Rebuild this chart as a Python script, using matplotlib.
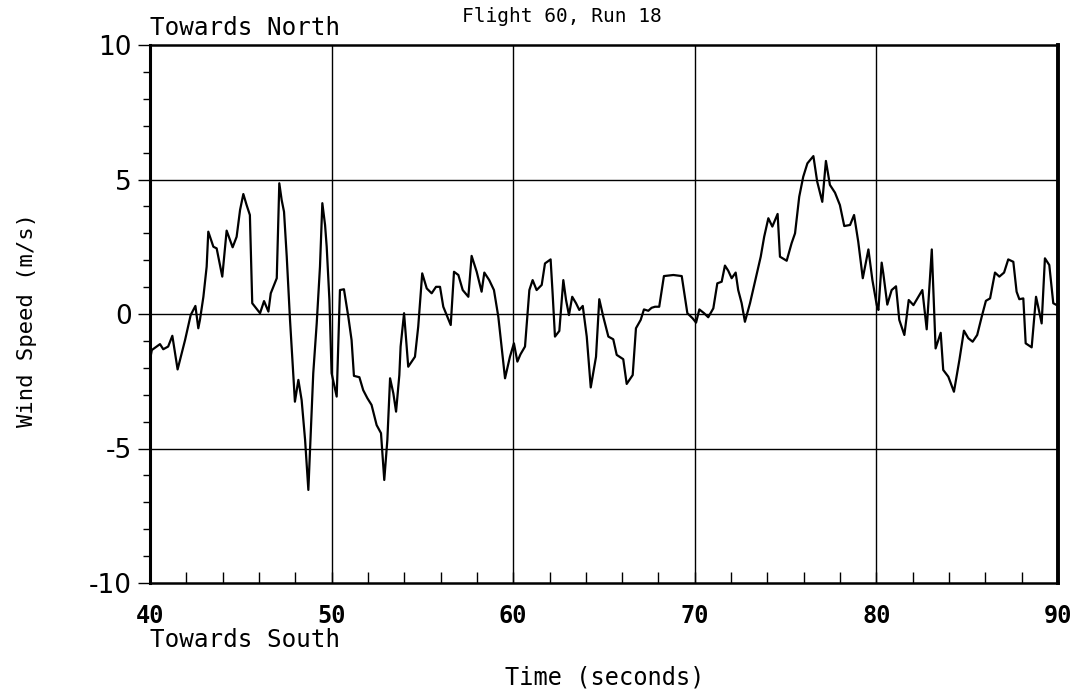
import matplotlib
matplotlib.use("Agg")
import matplotlib.pyplot as plt
from matplotlib.ticker import MultipleLocator

time_s = [40.0, 40.1, 40.55, 40.73, 41.0, 41.23, 41.52, 41.93, 42.24, 42.5, 42.66, 42.75,
          42.94, 43.12, 43.21, 43.49, 43.67, 43.98, 44.22, 44.55, 44.77, 44.96, 45.14, 45.32,
          45.5, 45.63, 46.06, 46.28, 46.52, 46.65, 46.98, 47.12, 47.25, 47.38, 47.53, 47.71,
          47.98, 48.17, 48.35, 48.54, 48.72, 48.99, 49.18, 49.36, 49.49, 49.64, 49.73, 49.88,
          50.0, 50.28, 50.46, 50.68, 50.92, 51.1, 51.23, 51.53, 51.74, 51.97, 52.2, 52.48,
          52.72, 52.9, 53.07, 53.22, 53.4, 53.55, 53.73, 53.8, 53.99, 54.22, 54.59, 54.77,
          54.99, 55.24, 55.51, 55.75, 55.97, 56.15, 56.56, 56.74, 56.98, 57.22, 57.53, 57.71,
          57.99, 58.26, 58.41, 58.68, 58.94, 59.18, 59.55, 59.82, 60.04, 60.23, 60.4, 60.65,
          60.89, 61.07, 61.29, 61.57, 61.75, 62.06, 62.17, 62.3, 62.54, 62.76, 62.91, 63.07,
          63.25, 63.46, 63.64, 63.83, 64.05, 64.27, 64.56, 64.74, 64.96, 65.24, 65.51, 65.7,
          66.06, 66.25, 66.58, 66.76, 67.02, 67.2, 67.44, 67.62, 67.81, 68.04, 68.3, 68.82,
          69.28, 69.59, 69.88, 70.07, 70.25, 70.51, 70.74, 71.02, 71.24, 71.48, 71.66, 71.84,
          72.03, 72.25, 72.39, 72.58, 72.76, 73.04, 73.31, 73.63, 73.82, 74.05, 74.27, 74.56,
          74.69, 75.06, 75.33, 75.52, 75.75, 75.97, 76.2, 76.53, 76.74, 77.02, 77.22, 77.44,
          77.72, 77.99, 78.23, 78.55, 78.77, 79.0, 79.25, 79.56, 79.78, 80.02, 80.11, 80.29,
          80.38, 80.6, 80.84, 81.08, 81.26, 81.54, 81.78, 82.04, 82.26, 82.53, 82.77, 83.05,
          83.26, 83.54, 83.68, 83.96, 84.27, 84.57, 84.82, 85.06, 85.3, 85.55, 85.8, 86.03,
          86.26, 86.53, 86.77, 87.03, 87.26, 87.54, 87.72, 87.87, 88.09, 88.22, 88.55, 88.79,
          88.91, 89.1, 89.28, 89.52, 89.74, 89.93]
wind_ms = [-1.7, -1.34, -1.12, -1.31, -1.21, -0.81, -2.06, -0.97, -0.04, 0.3, -0.53, -0.22,
           0.64, 1.76, 3.06, 2.5, 2.44, 1.39, 3.1, 2.48, 2.87, 3.87, 4.46, 4.05,
           3.68, 0.4, 0.03, 0.48, 0.09, 0.77, 1.33, 4.86, 4.24, 3.8, 2.13, -0.22,
           -3.26, -2.45, -3.2, -4.68, -6.54, -2.2, -0.35, 1.76, 4.12, 3.31, 2.5, 0.52,
           -2.2, -3.07, 0.89, 0.92, -0.1, -0.97, -2.3, -2.35, -2.83, -3.13, -3.38, -4.13,
           -4.43, -6.17, -4.68, -2.39, -2.95, -3.63, -2.27, -1.21, 0.03, -1.96, -1.59, -0.47,
           1.51, 0.95, 0.77, 1.01, 1.01, 0.27, -0.41, 1.57, 1.45, 0.89, 0.64, 2.16,
           1.57, 0.83, 1.54, 1.26, 0.89, -0.1, -2.39, -1.59, -1.09, -1.77, -1.5, -1.21,
           0.89, 1.26, 0.89, 1.08, 1.88, 2.03, 0.77, -0.84, -0.63, 1.26, 0.52, -0.04,
           0.64, 0.4, 0.15, 0.3, -0.84, -2.73, -1.59, 0.55, -0.1, -0.84, -0.94, -1.52,
           -1.68, -2.6, -2.27, -0.53, -0.22, 0.17, 0.12, 0.23, 0.27, 0.27, 1.41, 1.45,
           1.41, 0.03, -0.16, -0.32, 0.17, 0.03, -0.12, 0.21, 1.14, 1.2, 1.8, 1.61,
           1.33, 1.54, 0.89, 0.4, -0.29, 0.4, 1.2, 2.13, 2.87, 3.56, 3.25, 3.72,
           2.13, 1.98, 2.63, 3.0, 4.36, 5.1, 5.6, 5.87, 4.92, 4.17, 5.69, 4.8,
           4.51, 4.05, 3.27, 3.31, 3.68, 2.69, 1.33, 2.4, 1.26, 0.33, 0.15, 1.91,
           1.51, 0.35, 0.89, 1.03, -0.22, -0.78, 0.52, 0.33, 0.58, 0.89, -0.57, 2.4,
           -1.28, -0.7, -2.08, -2.33, -2.89, -1.71, -0.62, -0.9, -1.03, -0.78, -0.1, 0.49,
           0.58, 1.54, 1.39, 1.54, 2.03, 1.94, 0.83, 0.55, 0.58, -1.09, -1.24, 0.64,
           0.27, -0.35, 2.07, 1.82, 0.4, 0.33]

x_ticklabels = ["40", "50", "60", "70", "80", "90"]
y_ticklabels = ["-10", "-5", "0", "5", "10"]

fig = plt.figure(figsize=(10.83, 6.93), dpi=100)
ax = fig.add_axes([150/1083, 1 - 583/693, 908/1083, 538/693])

ax.plot(time_s, wind_ms, color="black", lw=1.6, zorder=3)

ax.set_xlim(40, 90)
ax.set_ylim(-10, 10)

for xv in [50, 60, 70, 80]:
    ax.axvline(xv, color="black", lw=1.0, zorder=1)
for yv in [5, 0, -5]:
    ax.axhline(yv, color="black", lw=1.0, zorder=1)

mono = "DejaVu Sans Mono"
ax.set_xticks([40, 50, 60, 70, 80, 90])
ax.set_xticklabels(x_ticklabels, fontfamily=mono, fontsize=17, fontweight="bold")
ax.set_yticks([-10, -5, 0, 5, 10])
ax.set_yticklabels(y_ticklabels, fontfamily="DejaVu Sans", fontsize=19)
ax.xaxis.set_minor_locator(MultipleLocator(2))
ax.yaxis.set_minor_locator(MultipleLocator(1))
ax.tick_params(axis="x", which="both", direction="in", length=8, width=1, top=False, pad=15)
ax.tick_params(axis="y", which="major", direction="out", length=9, width=1, right=False, pad=4)
ax.tick_params(axis="y", which="minor", direction="out", length=5, width=1, right=False)

for s in ["bottom", "top"]:
    ax.spines[s].set_linewidth(1.8)
ax.spines["left"].set_linewidth(2.2)
ax.spines["right"].set_linewidth(2.8)

fig.text(27/1083, 1 - 320/693, "Wind Speed (m/s)", fontfamily=mono, fontsize=16,
         rotation=90, ha="center", va="center")
fig.text(605/1083, 1 - 678/693, "Time (seconds)", fontfamily=mono, fontsize=17,
         ha="center", va="center")
fig.text(150/1083, 1 - 28/693, "Towards North", fontfamily=mono, fontsize=17.5,
         ha="left", va="center")
fig.text(562/1083, 1 - 17/693, "Flight 60, Run 18", fontfamily=mono, fontsize=14,
         ha="center", va="center")
fig.text(150/1083, 1 - 640/693, "Towards South", fontfamily=mono, fontsize=17.5,
         ha="left", va="center")

fig.savefig("out.png", dpi=100)
